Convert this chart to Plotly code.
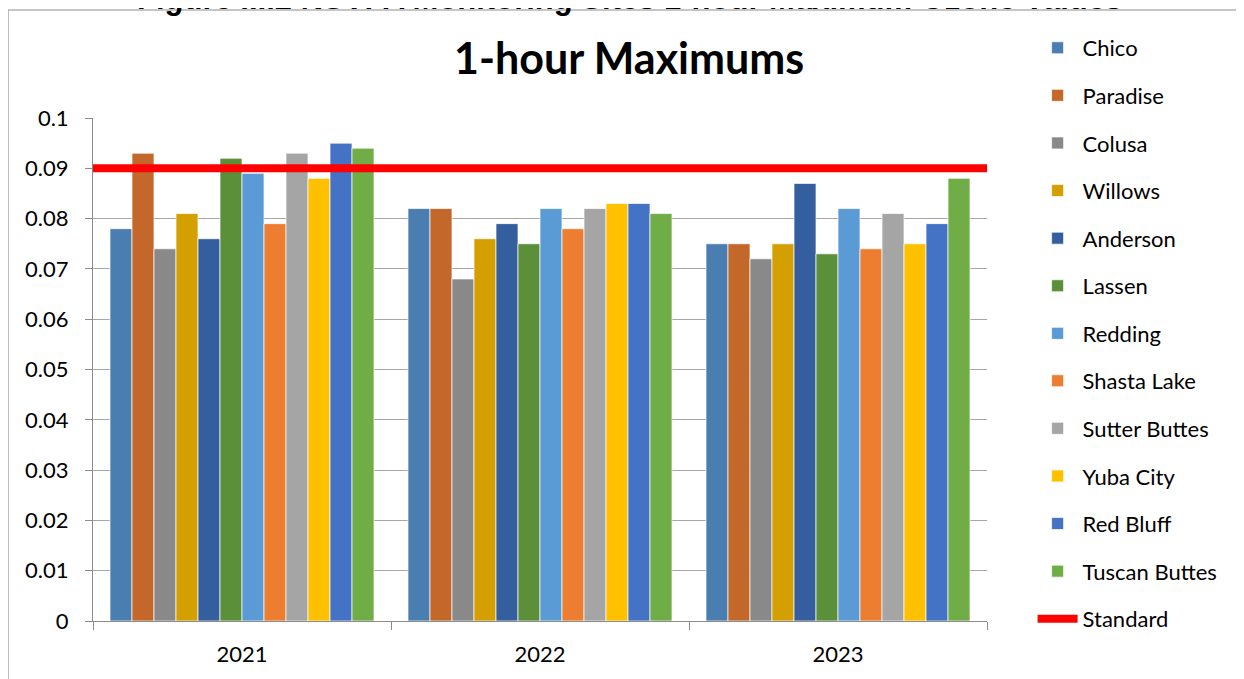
import plotly.graph_objects as go

years = ["2021", "2022", "2023"]
sites = ["Chico", "Paradise", "Colusa", "Willows", "Anderson", "Lassen", "Redding",
         "Shasta Lake", "Sutter Buttes", "Yuba City", "Red Bluff", "Tuscan Buttes"]
chico = [0.078, 0.082, 0.075]
paradise = [0.093, 0.082, 0.075]
colusa = [0.074, 0.068, 0.072]
willows = [0.081, 0.076, 0.075]
anderson = [0.076, 0.079, 0.087]
lassen = [0.092, 0.075, 0.073]
redding = [0.089, 0.082, 0.082]
shasta_lake = [0.079, 0.078, 0.074]
sutter_buttes = [0.093, 0.082, 0.081]
yuba_city = [0.088, 0.083, 0.075]
red_bluff = [0.095, 0.083, 0.079]
tuscan_buttes = [0.094, 0.081, 0.088]
standard = 0.09
y_ticks = [0, 0.01, 0.02, 0.03, 0.04, 0.05, 0.06, 0.07, 0.08, 0.09, 0.1]
y_tick_labels = ["0", "0.01", "0.02", "0.03", "0.04", "0.05", "0.06", "0.07", "0.08", "0.09", "0.1"]

series = [chico, paradise, colusa, willows, anderson, lassen, redding,
          shasta_lake, sutter_buttes, yuba_city, red_bluff, tuscan_buttes]
colors = ["#4A7EB1", "#C4672A", "#898989", "#D49F00", "#355E9F", "#5B8F3A", "#5B9BD5",
          "#ED7D31", "#A5A5A5", "#FFC000", "#4472C4", "#70AD47"]

FONT = "Lato"
fig = go.Figure()
for i, (name, vals, col) in enumerate(zip(sites, series, colors)):
    fig.add_trace(go.Bar(
        x=years, y=vals, name=name, legendgroup=name,
        legend="legend" if i < 7 else "legend2",
        marker=dict(color=col, line=dict(color="rgba(255,255,255,0.7)", width=1)),
    ))

fig.add_trace(go.Scatter(
    x=[0, len(years)], y=[standard, standard], name="Standard", legendgroup="Standard",
    legend="legend2",
    mode="lines", line=dict(color="#FF0000", width=8), xaxis="x2",
))

leg_common = dict(xanchor="left", yanchor="top", font=dict(family=FONT, size=22),
                  tracegroupgap=16, itemwidth=40, bgcolor="rgba(0,0,0,0)")

fig.update_layout(
    width=1244, height=679,
    margin=dict(l=85, r=265, t=110, b=66, autoexpand=False),
    paper_bgcolor="white", plot_bgcolor="white",
    barmode="group", bargap=0.114, bargroupgap=0,
    font=dict(family=FONT, size=22, color="black"),
    xaxis=dict(
        type="category", tickson="boundaries", ticks="outside", ticklen=8,
        tickcolor="#8C8C8C", showline=True, linecolor="#8C8C8C", linewidth=1,
        showgrid=False, tickfont=dict(family=FONT, size=22), automargin=False,
        ticklabelstandoff=14,
    ),
    xaxis2=dict(overlaying="x", range=[0, len(years)], visible=False),
    yaxis=dict(
        range=[0, 0.1], tickvals=y_ticks, ticktext=y_tick_labels,
        ticks="outside", ticklen=7, tickcolor="#8C8C8C",
        showline=True, linecolor="#8C8C8C", linewidth=1,
        showgrid=True, gridcolor="#A6A6A6", gridwidth=1, zeroline=False,
        tickfont=dict(family=FONT, size=22), automargin=False,
        ticklabelstandoff=12,
    ),
    legend=dict(x=1.051, y=1.181, **leg_common),
    legend2=dict(x=1.051, y=0.519, **leg_common),
    showlegend=True,
)

fig.add_annotation(
    text="<b>1-hour Maximums</b>", xref="paper", yref="paper", x=0.6, y=1.12,
    xanchor="center", yanchor="middle", showarrow=False,
    font=dict(family=FONT, size=43, color="black"),
)
fig.add_annotation(
    text="<b>Figure III.2 NSVPA Monitoring Sites 1-hour Maximum Ozone Values</b>",
    xref="paper", yref="paper", x=0.6, y=1.1995,
    xanchor="center", yanchor="bottom", showarrow=False,
    font=dict(family="Liberation Sans", size=31, color="black"),
)
fig.add_shape(
    type="rect", xref="paper", yref="paper", x0=-0.095, y0=-1, x1=2, y1=1.2147,
    line=dict(color="#8C8C8C", width=1), fillcolor="rgba(0,0,0,0)", layer="below",
)

fig.write_html("out.html")
